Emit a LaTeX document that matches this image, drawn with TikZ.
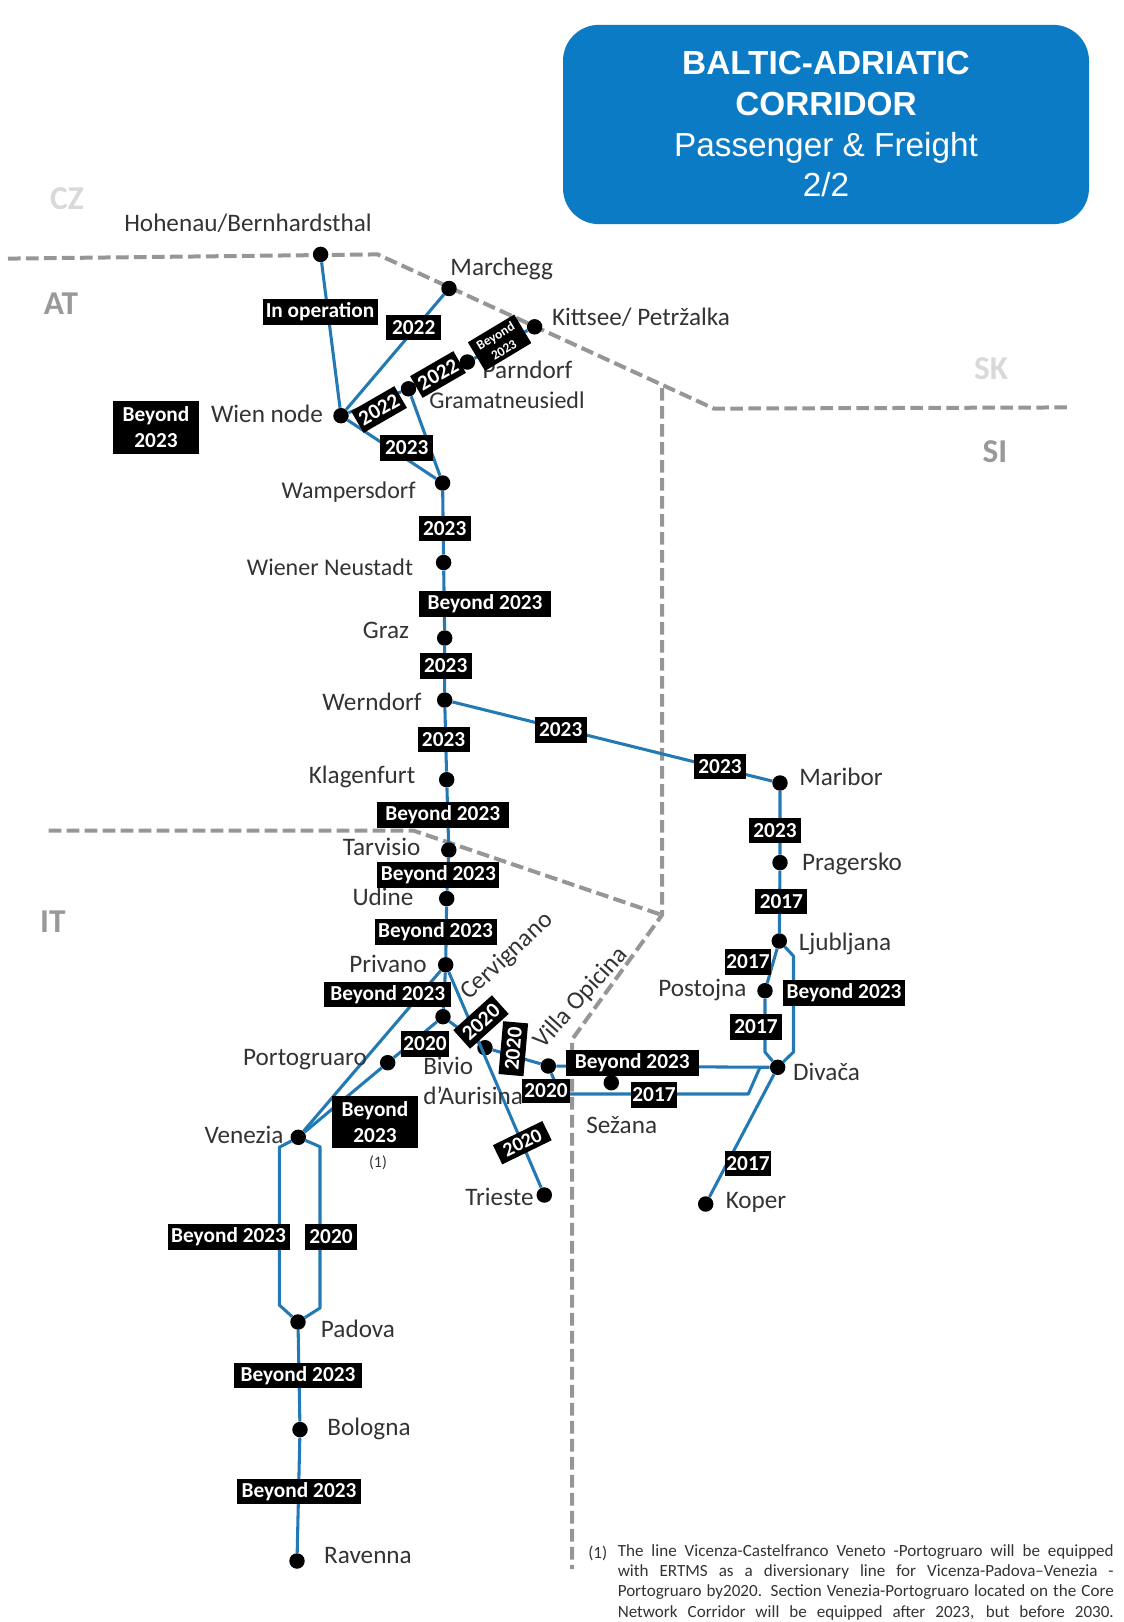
\documentclass[tikz,border=0pt]{standalone}
\usepackage{fontspec}
\setmainfont{Carlito}
\newfontfamily\titlefont{Liberation Sans}
\usetikzlibrary{calc}

\definecolor{railblue}{HTML}{2379B4}
\definecolor{titleblue}{HTML}{0B7BC6}
\definecolor{bordergray}{HTML}{969696}

\tikzset{
  stopdot/.style={circle,fill=black,inner sep=0pt,minimum size=11.6pt},
  rail/.style={draw=railblue,line width=2.3pt,line join=round},
  frontier/.style={draw=bordergray,line width=3pt,dash pattern=on 9.5pt off 4pt},
  station/.style={font=\fontsize{18.9}{22.5}\selectfont,text=black!80,inner sep=0pt,align=left},
  narrowname/.style={font=\fontsize{18}{22.5}\selectfont},
  datebox/.style={fill=black,text=white,inner sep=0pt,minimum height=18.8pt,minimum width=#1*0.75pt,
    align=center,yshift=-0.75pt,font=\bfseries\fontsize{16}{19.5}\selectfont},
  country/.style={font=\bfseries\fontsize{25}{30}\selectfont,inner sep=0pt},
  notetext/.style={font=\fontsize{12.8}{15.3}\selectfont,text=black!80,inner sep=0pt},
}

\begin{document}
\begin{tikzpicture}[x=0.75pt,y=-0.75pt]
    \useasboundingbox (0,0) rectangle (1124,1622);

    % title
    \node[fill=titleblue,rounded corners=27pt,minimum width=394.5pt,minimum height=149.5pt,inner sep=0pt,
          text=white,align=center,font=\titlefont\fontsize{25}{30.5}\selectfont] (title) at (826,124.5)
          {\textbf{BALTIC-ADRIATIC}\\\textbf{CORRIDOR}\\Passenger \& Freight\\2/2};

    % borders
    \draw[frontier] (8,258.6) -- (377.6,254.4) -- (714,408.6) -- (1071,407.4);
    \draw[frontier] (662,388) -- (662,915) -- (572,1039.6) -- (572,1569);
    \draw[frontier] (48.6,830.7) -- (413.8,830.7) -- (662,915);

    \node[country,text=black!15] (cz) at (67,198.6) {CZ};
    \node[country,text=black!40] (at) at (61,304) {AT};
    \node[country,text=black!15] (sk) at (991,369) {SK};
    \node[country,text=black!40] (si) at (995,452) {SI};
    \node[country,text=black!40] (it) at (52.8,921.7) {IT};

    % stops
    \node[stopdot] (hohenau) at (320.6,254.4) {};
    \node[stopdot] (marchegg) at (449,288.5) {};
    \node[stopdot] (kittsee) at (534.6,326.8) {};
    \node[stopdot] (parndorf) at (467.4,362) {};
    \node[stopdot] (gramat) at (408.5,388.8) {};
    \node[stopdot] (wien) at (341,415.7) {};
    \node[stopdot] (wampers) at (442.6,483) {};
    \node[stopdot] (neustadt) at (443.6,562.5) {};
    \node[stopdot] (graz) at (444.7,638) {};
    \node[stopdot] (werndorf) at (444.7,700) {};
    \node[stopdot] (klagenfurt) at (446.7,779.7) {};
    \node[stopdot] (tarvisio) at (448.8,850) {};
    \node[stopdot] (udine) at (446.7,898.6) {};
    \node[stopdot] (privano) at (445.7,964.8) {};
    \node[stopdot] (cervignano) at (443,1016.7) {};
    \node[stopdot] (portogruaro) at (387.7,1062.7) {};
    \node[stopdot] (bivio) at (485,1047.7) {};
    \node[stopdot] (villa) at (548.3,1066) {};
    \node[stopdot] (venezia) at (298.3,1137.3) {};
    \node[stopdot] (trieste) at (544.3,1195) {};
    \node[stopdot] (sezana) at (611.3,1082.7) {};
    \node[stopdot] (divaca) at (777.7,1067.3) {};
    \node[stopdot] (koper) at (705.7,1204) {};
    \node[stopdot] (postojna) at (765,990.7) {};
    \node[stopdot] (ljubljana) at (779.3,941) {};
    \node[stopdot] (pragersko) at (780,862.6) {};
    \node[stopdot] (maribor) at (780,783) {};
    \node[stopdot] (padova) at (298,1322) {};
    \node[stopdot] (bologna) at (300,1429.6) {};
    \node[stopdot] (ravenna) at (297,1561) {};

    % bends
    \coordinate (venleft) at (279.3,1147.3);
    \coordinate (venright) at (320,1146.7);
    \coordinate (padleft) at (279.3,1305);
    \coordinate (padright) at (320,1308);
    \coordinate (ljuright) at (793.5,956);
    \coordinate (divright) at (793.5,1052);
    \coordinate (postbend) at (765,1052);
    \coordinate (sezbend) at (748.3,1094);
    \coordinate (sezjoin) at (760,1067.3);
    \coordinate (villabend) at (560,1094);

    % lines
    \draw[rail] (hohenau) -- (wien);
    \draw[rail] (wien) -- (marchegg);
    \draw[rail] (wien) -- (gramat) -- (parndorf) -- (kittsee);
    \draw[rail] (gramat) -- (wampers);
    \draw[rail] (wien) -- (wampers);
    \draw[rail] (wampers) -- (neustadt) -- (graz) -- (werndorf) -- (klagenfurt) -- (tarvisio) -- (udine) -- (privano);
    \draw[rail] (werndorf) -- (maribor) -- (pragersko) -- (ljubljana);
    \draw[rail] (ljubljana) -- (postojna) -- (postbend) -- (divaca);
    \draw[rail] (ljubljana) -- (ljuright) -- (divright) -- (divaca);
    \draw[rail] (divaca) -- (koper);
    \draw[rail] (divaca) -- (villa);
    \draw[rail] (sezjoin) -- (sezbend) -- (villabend) -- (villa);
    \draw[rail] (privano) -- (venezia);
    \draw[rail] (privano) -- (cervignano);
    \draw[rail] (cervignano) -- (portogruaro) -- (venezia);
    \draw[rail] (cervignano) -- (bivio) -- (villa);
    \draw[rail] (privano) -- (trieste);
    \draw[rail] (venezia) -- (venleft) -- (padleft) -- (padova);
    \draw[rail] (venezia) -- (venright) -- (padright) -- (padova);
    \draw[rail] (padova) -- (bologna) -- (ravenna);

    % names
    \node[station] (lhohenau) at (248,223) {Hohenau/Bernhardsthal};
    \node[station] (lmarchegg) at (501.7,269) {Marchegg};
    \node[station] (lkittsee) at (641,317.5) {Kittsee/ Petržalka};
    \node[station] (lparndorf) at (527.5,370) {Parndorf};
    \node[station,narrowname] (lgramat) at (507,400) {Gramatneusiedl};
    \node[station] (lwien) at (267,413.7) {Wien node};
    \node[station,narrowname] (lwampers) at (348.6,492) {Wampersdorf};
    \node[station,narrowname] (lneustadt) at (330,567) {Wiener Neustadt};
    \node[station] (lgraz) at (386,630) {Graz};
    \node[station] (lwerndorf) at (372,702) {Werndorf};
    \node[station] (lklagenfurt) at (362,777) {Klagenfurt};
    \node[station] (ltarvisio) at (381.6,847) {Tarvisio};
    \node[station] (ludine) at (383,897) {Udine};
    \node[station] (lprivano) at (388,964) {Privano};
    \node[station,rotate=43] (lcervignano) at (507,956.6) {Cervignano};
    \node[station,rotate=48] (lvilla) at (581,998) {Villa Opicina};
    \node[station] (lportogruaro) at (305,1060) {Portogruaro};
    \node[station,anchor=west] (lbivio) at (423,1081) {Bivio\\d'Aurisina};
    \node[station] (lsezana) at (621.7,1125) {Sežana};
    \node[station] (lmaribor) at (841,777) {Maribor};
    \node[station] (lpragersko) at (852,864) {Pragersko};
    \node[station] (lljubljana) at (845,944) {Ljubljana};
    \node[station] (lpostojna) at (702.4,990) {Postojna};
    \node[station] (ldivaca) at (826.6,1071.7) {Divača};
    \node[station] (lkoper) at (756,1202) {Koper};
    \node[station] (lvenezia) at (244,1134.5) {Venezia};
    \node[station] (ltrieste) at (499.5,1196.5) {Trieste};
    \node[station] (lpadova) at (358,1329) {Padova};
    \node[station] (lbologna) at (369,1429) {Bologna};
    \node[station] (lravenna) at (368,1555.6) {Ravenna};

    % dates
    \node[datebox=115] (d1) at (320,311) {In operation};
    \node[datebox=55] (d2) at (413.7,326.5) {2022};
    \node[datebox=50,rotate=30] (d3) at (379,408.5) {2022};
    \node[datebox=50,rotate=30] (d4) at (438,373.5) {2022};
    \node[datebox=54,rotate=31,minimum height=25pt,font=\bfseries\fontsize{10}{12}\selectfont] (d5) at (499.6,341.7) {Beyond\\2023};
    \node[datebox=86,minimum height=39.5pt] (d6) at (156,426.4) {Beyond\\2023};
    \node[datebox=53] (d7) at (406.8,447) {2023};
    \node[datebox=52] (d8) at (444.7,527.5) {2023};
    \node[datebox=132] (d9) at (485,603) {Beyond 2023};
    \node[datebox=52] (d10) at (445.7,665) {2023};
    \node[datebox=52] (d11) at (443.6,738.4) {2023};
    \node[datebox=52] (d12) at (560.7,729) {2023};
    \node[datebox=52] (d13) at (720,765.2) {2023};
    \node[datebox=132] (d14) at (442.7,814) {Beyond 2023};
    \node[datebox=122] (d15) at (438.4,874) {Beyond 2023};
    \node[datebox=122] (d16) at (435.5,931) {Beyond 2023};
    \node[datebox=127] (d17) at (387.7,993.5) {Beyond 2023};
    \node[datebox=48] (d18) at (425,1043) {2020};
    \node[datebox=86,minimum height=38.5pt] (d19) at (375,1121) {Beyond\\2023};
    \node[datebox=52,rotate=42] (d20) at (481,1021) {2020};
    \node[datebox=53,rotate=85] (d21) at (513.3,1047.7) {2020};
    \node[datebox=48,minimum height=18pt] (d22) at (546,1090) {2020};
    \node[datebox=55,rotate=26,minimum height=16pt,font=\bfseries\fontsize{15}{17}\selectfont] (d23) at (522.3,1141.7) {2020};
    \node[datebox=133] (d24) at (632.3,1062) {Beyond 2023};
    \node[datebox=46] (d25) at (654,1094) {2017};
    \node[datebox=46] (d26) at (748,1162.5) {2017};
    \node[datebox=52] (d27) at (756,1026) {2017};
    \node[datebox=46] (d28) at (748,961) {2017};
    \node[datebox=122] (d29) at (844,992) {Beyond 2023};
    \node[datebox=52] (d30) at (781.4,900.5) {2017};
    \node[datebox=52] (d31) at (775,829.4) {2023};
    \node[datebox=128] (d32) at (298,1374.5) {Beyond 2023};
    \node[datebox=124] (d33) at (299,1490.5) {Beyond 2023};
    \node[datebox=122] (d34) at (228.6,1236) {Beyond 2023};
    \node[datebox=52] (d35) at (331,1236) {2020};

    % footnote
    \node[notetext,font=\fontsize{12}{15}\selectfont] (noteref) at (378,1162.7) {(1)};
    \node[notetext,anchor=west] (notemark) at (588,1553) {(1)};
    \node[notetext,anchor=north west,align=left] (note) at (617.5,1544) {%
      \makebox[372pt][s]{The line Vicenza-Castelfranco Veneto -Portogruaro will be equipped}\\
      \makebox[372pt][s]{with ERTMS as a diversionary line for Vicenza-Padova–Venezia -}\\
      \makebox[372pt][s]{Portogruaro by2020. Section Venezia-Portogruaro located on the Core}\\
      \makebox[372pt][s]{Network Corridor will be equipped after 2023, but before 2030.}};
\end{tikzpicture}
\end{document}
